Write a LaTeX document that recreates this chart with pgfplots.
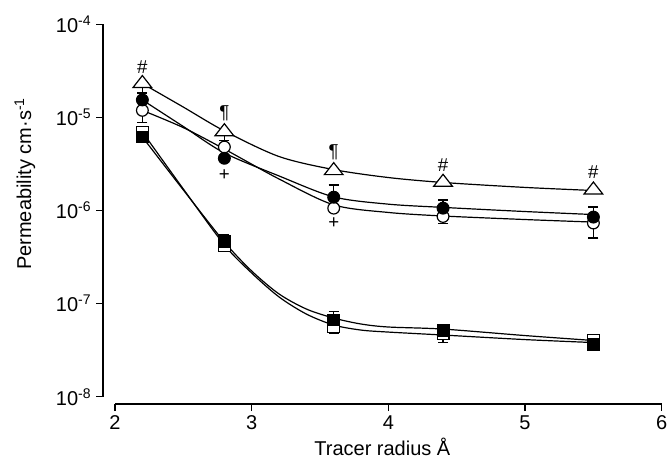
\documentclass[border=0pt]{standalone}
\usepackage{pgfplots}
\pgfplotsset{compat=1.18}
\usepackage{fontspec}
\setmainfont{Liberation Sans}
\begin{document}
\begin{tikzpicture}
\begin{axis}[name=ax, scale only axis, width=419pt, height=284.8pt,
  ymode=log, xmin=1.912, xmax=6, ymin=8.35e-9, ymax=1e-4,
  axis x line*=bottom, axis y line*=left, axis line style={draw=none},
  xtick={2,3,4,5,6}, xticklabels={2,3,4,5,6},
  ytick={1e-8,1e-7,1e-6,1e-5,1e-4},
  yticklabels={10\textsuperscript{-8},10\textsuperscript{-7},10\textsuperscript{-6},10\textsuperscript{-5},10\textsuperscript{-4}},
  yminorticks=false,
  tick align=outside, major tick length=5.25pt,
  tick style={black, line width=0.9pt},
  tick label style={font=\fontsize{15}{17}\selectfont},
  label style={font=\fontsize{15}{17}\selectfont},
  xlabel={Tracer radius Å},
  ylabel={Permeability cm·s\textsuperscript{-1}},
  xlabel style={at={(axis description cs:0.5,-0.136)}, anchor=base},
  ylabel style={at={(axis description cs:-0.14,0.58)}, anchor=center},
  clip=false,
]
% axis lines (detached)
\draw[line width=0.9pt] (axis cs:1.912,1e-8) -- (axis cs:1.912,1e-4);
\draw[line width=0.9pt] (axis cs:2,8.35e-9) -- (axis cs:6,8.35e-9);

% fitted curves
\addplot[black, line width=0.9pt, smooth, mark=none] coordinates {
(2.2,2.31e-5) (2.5,1.29e-5) (2.8,7.15e-6) (3.2,3.80e-6) (3.6,2.75e-6) (4.0,2.26e-6) (4.4,2.0e-6) (5.0,1.77e-6) (5.5,1.64e-6)};
\addplot[black, line width=0.9pt, smooth, mark=none] coordinates {
(2.2,1.54e-5) (2.5,7.98e-6) (2.8,4.15e-6) (3.2,2.35e-6) (3.6,1.40e-6) (4.0,1.17e-6) (4.4,1.08e-6) (5.0,9.75e-7) (5.5,9.05e-7)};
\addplot[black, line width=0.9pt, smooth, mark=none] coordinates {
(2.2,1.19e-5) (2.5,7.76e-6) (2.8,4.57e-6) (3.2,2.18e-6) (3.6,1.15e-6) (4.0,9.53e-7) (4.4,8.73e-7) (5.0,8.0e-7) (5.5,7.51e-7)};
\addplot[black, line width=0.9pt, smooth, mark=none] coordinates {
(2.2,6.16e-6) (2.5,1.66e-6) (2.8,4.59e-7) (3.0,2.24e-7) (3.2,1.27e-7) (3.4,8.75e-8) (3.6,7.0e-8) (3.8,6.04e-8) (4.0,5.61e-8) (4.4,5.33e-8) (5.0,4.54e-8) (5.5,4.02e-8)};
\addplot[black, line width=0.9pt, smooth, mark=none] coordinates {
(2.2,6.97e-6) (2.5,1.70e-6) (2.8,4.27e-7) (3.0,2.13e-7) (3.2,1.18e-7) (3.4,7.73e-8) (3.6,5.89e-8) (3.8,5.2e-8) (4.0,4.95e-8) (4.4,4.6e-8) (5.0,4.11e-8) (5.5,3.82e-8)};

% error bars (upper)
\addplot[black, only marks, mark=none, forget plot,
  error bars/.cd, y dir=plus, y explicit,
  error bar style={line width=0.9pt, black},
  error mark options={rotate=90, mark size=3.75pt, line width=0.9pt, black}]
  table[x=x, y=y, y error=e] {
x y e
2.2 1.54e-5 2.9e-6
3.6 1.39e-6 4.9e-7
4.4 1.06e-6 2.4e-7
5.5 8.5e-7 2.4e-7
3.6 6.67e-8 1.52e-8
2.8 4.70e-7 7.6e-8
};
% error bars (lower)
\addplot[black, only marks, mark=none, forget plot,
  error bars/.cd, y dir=minus, y explicit,
  error bar style={line width=0.9pt, black},
  error mark options={rotate=90, mark size=3.75pt, line width=0.9pt, black}]
  table[x=x, y=y, y error=e] {
x y e
2.2 2.31e-5 4.5e-6
2.8 7.02e-6 1.4e-6
2.2 1.19e-5 3.13e-6
4.4 8.63e-7 1.33e-7
5.5 7.34e-7 2.28e-7
3.6 5.68e-8 0.88e-8
4.4 4.72e-8 0.88e-8
};

% markers
\addplot[only marks, mark=square*, mark size=4.4pt, mark options={draw=black, fill=white, line width=0.9pt}] coordinates {
(2.2,6.97e-6) (2.8,4.16e-7) (3.6,5.68e-8) (4.4,4.72e-8) (5.5,4.06e-8)};
\addplot[only marks, mark=square*, mark size=4.4pt, mark options={draw=black, fill=black, line width=0.9pt}] coordinates {
(2.2,6.16e-6) (2.8,4.70e-7) (3.6,6.67e-8) (4.4,5.2e-8) (5.5,3.64e-8)};
\addplot[only marks, mark=*, mark size=4.4pt, mark options={draw=black, fill=white, line width=0.9pt}] coordinates {
(2.2,1.19e-5) (2.8,4.81e-6) (3.6,1.06e-6) (4.4,8.63e-7) (5.5,7.34e-7)};
\addplot[only marks, mark=*, mark size=4.4pt, mark options={draw=black, fill=black, line width=0.9pt}] coordinates {
(2.2,1.54e-5) (2.8,3.64e-6) (3.6,1.39e-6) (4.4,1.06e-6) (5.5,8.5e-7)};
\addplot[only marks, mark=triangle*, mark size=6pt, mark options={draw=black, fill=white, line width=0.9pt, xscale=1.35}] coordinates {
(2.2,2.31e-5) (2.8,7.02e-6) (3.6,2.68e-6) (4.4,2.01e-6) (5.5,1.66e-6)};

% significance annotations
\node[font=\fontsize{14}{16}\selectfont] at (axis cs:2.2,3.5e-5) {\#};
\node[font=\fontsize{14}{16}\selectfont] at (axis cs:2.8,1.11e-5) {¶};
\node[font=\fontsize{14}{16}\selectfont] at (axis cs:2.8,2.4e-6) {+};
\node[font=\fontsize{14}{16}\selectfont] at (axis cs:3.6,4.2e-6) {¶};
\node[font=\fontsize{14}{16}\selectfont] at (axis cs:3.6,7.3e-7) {+};
\node[font=\fontsize{14}{16}\selectfont] at (axis cs:4.4,3.08e-6) {\#};
\node[font=\fontsize{14}{16}\selectfont] at (axis cs:5.5,2.6e-6) {\#};
\end{axis}
\pgfresetboundingbox
\path[use as bounding box] ([xshift=-77.25pt,yshift=-44.25pt]ax.south west) rectangle ([xshift=4.7pt,yshift=18.2pt]ax.north east);
\end{tikzpicture}
\end{document}
